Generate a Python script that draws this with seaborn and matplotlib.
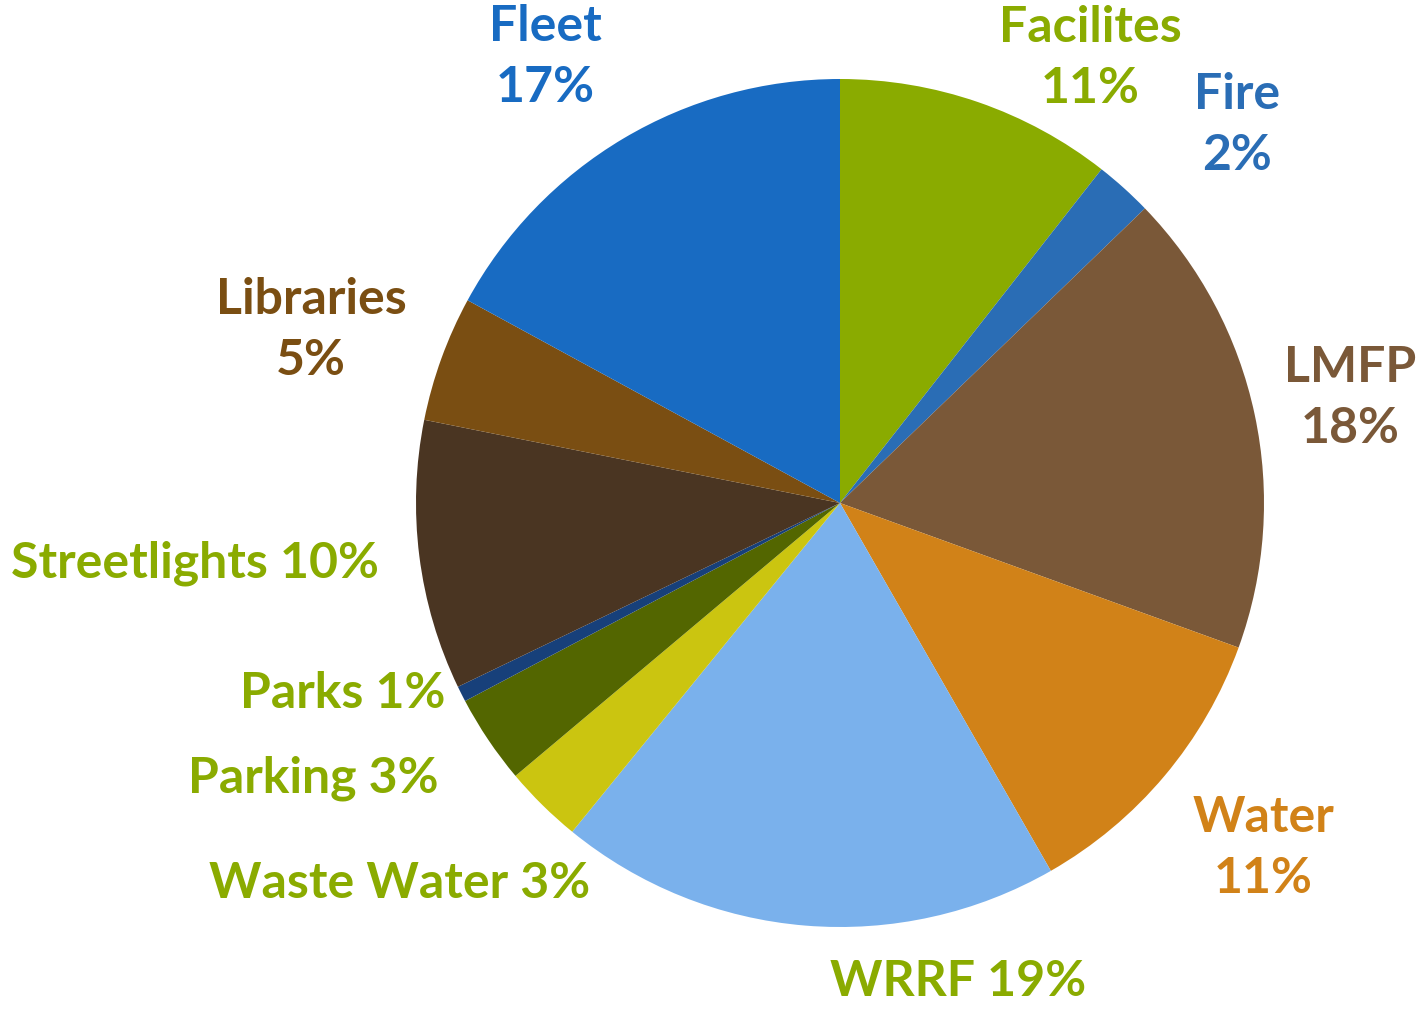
import matplotlib
matplotlib.use("Agg")
import matplotlib.pyplot as plt
import seaborn as sns

sns.set_theme(style="white")
plt.rcParams['font.family'] = ['Lato', 'DejaVu Sans']

categories = ["Facilites", "Fire", "LMFP", "Water", "WRRF", "Waste Water",
              "Parking", "Parks", "Streetlights", "Libraries", "Fleet"]
values = [10.6, 2.2, 17.8, 11.2, 19.2, 3.0, 3.4, 0.6, 10.3, 4.8, 17.1]
slice_colors = ["#8aab00", "#2a6db5", "#7a5838", "#d18218", "#7ab1ec", "#cbc510",
                "#536600", "#17407a", "#4a3522", "#7a4e12", "#186bc2"]
label_colors = ["#8aab00", "#2a6db5", "#7a5838", "#d18218", "#8aab00", "#8aab00",
                "#8aab00", "#8aab00", "#8aab00", "#7a4e12", "#186bc2"]
# label layout: two-line or one-line, position in pixels (center)
label_two_line = [True, True, True, True, False, False, False, False, False, True, True]
label_pos_px = [(1090, 58), (1237, 125), (1350, 398), (1263, 848), (958, 982),
                (400, 883), (313, 778), (343, 694), (195, 563), (311, 330), (545, 57)]

W, H = 1416, 1011
cx, cy, R = 840, 503, 424

fig = plt.figure(figsize=(W / 100, H / 100), dpi=100)
ax = fig.add_axes([0, 0, 1, 1])
ax.pie(values, colors=slice_colors, startangle=90, counterclock=False,
       radius=1.0, center=(0, 0), wedgeprops=dict(linewidth=0))
ax.set_xlim(-cx / R, (W - cx) / R)
ax.set_ylim((cy - H) / R, cy / R)
ax.set_aspect('auto')
ax.axis('off')

for name, v, col, two, (px, py) in zip(categories, values, label_colors,
                                        label_two_line, label_pos_px):
    sep = "\n" if two else " "
    txt = f"{name}{sep}{round(v)}%"
    ax.text((px - cx) / R, (cy - py) / R, txt, color=col, fontsize=36,
            fontweight='bold', ha='center', va='center', linespacing=1.42)

fig.savefig("out.png", dpi=100, facecolor="white")
